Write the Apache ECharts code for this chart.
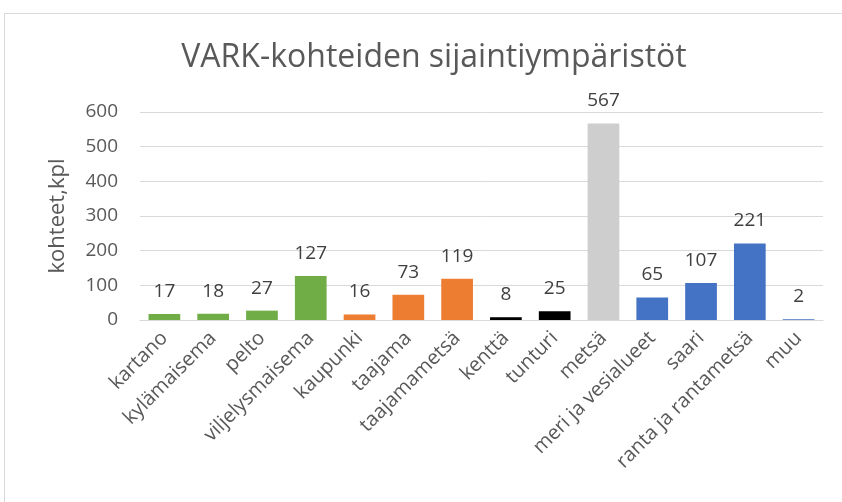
<!DOCTYPE html>
<html>
<head>
<meta charset="utf-8">
<script src="https://cdn.jsdelivr.net/npm/echarts@6/dist/echarts.min.js"></script>
<style>
  html, body { margin: 0; padding: 0; background: #fff; }
  #frame { position: absolute; left: 4px; top: 13px; width: 842px; height: 502px; border-left: 1px solid #d9d9d9; border-top: 1px solid #d9d9d9; }
  #chart { position: absolute; left: 0; top: 0; width: 842px; height: 502px; }
</style>
</head>
<body>
<div id="frame"></div>
<div id="chart"></div>
<script>
// sijaintiympäristöt ja kohteiden määrät
const categories = ["kartano", "kylämaisema", "pelto", "viljelysmaisema", "kaupunki", "taajama", "taajamametsä", "kenttä", "tunturi", "metsä", "meri ja vesialueet", "saari", "ranta ja rantametsä", "muu"];
const counts = [17, 18, 27, 127, 16, 73, 119, 8, 25, 567, 65, 107, 221, 2];
const groups = ["g", "g", "g", "g", "o", "o", "o", "k", "k", "s", "b", "b", "b", "b"];
const yTicks = [0, 100, 200, 300, 400, 500, 600];

const groupColors = { g: "#70ad47", o: "#ed7d31", k: "#000000", s: "#cecece", b: "#4472c4" };
const font = "'Open Sans', 'Noto Sans', sans-serif";

let chart = echarts.init(document.getElementById("chart"));
let option = {
  title: {
    text: "VARK-kohteiden sijaintiympäristöt",
    left: 429,
    textAlign: "center",
    top: 37,
    textStyle: { fontFamily: font, fontSize: 32, fontWeight: "normal", color: "#595959" },
  },
  grid: { left: 140, right: 19, top: 112, bottom: 182 },
  xAxis: {
    type: "category",
    data: categories,
    axisLine: { lineStyle: { color: "#d9d9d9" } },
    axisTick: { show: false },
    axisLabel: { rotate: 45, interval: 0, margin: 15, fontFamily: font, fontSize: 20, color: "#595959" },
  },
  yAxis: {
    type: "value",
    min: yTicks[0],
    max: yTicks[yTicks.length - 1],
    interval: 100,
    name: "kohteet,kpl",
    nameLocation: "middle",
    nameGap: 71,
    nameTextStyle: { fontFamily: font, fontSize: 22, color: "#595959" },
    axisLine: { show: false },
    axisTick: { show: false },
    splitLine: { lineStyle: { color: "#d9d9d9", width: 1 } },
    axisLabel: { fontFamily: font, fontSize: 19, color: "#595959", margin: 22 },
  },
  series: [
    {
      type: "bar",
      barCategoryGap: "35%",
      data: counts.map((v, i) => ({ value: v, itemStyle: { color: groupColors[groups[i]] } })),
      label: { show: true, position: "top", distance: 13, fontFamily: font, fontSize: 19, color: "#404040" },
    },
  ],
};
chart.setOption(option);
</script>
</body>
</html>
